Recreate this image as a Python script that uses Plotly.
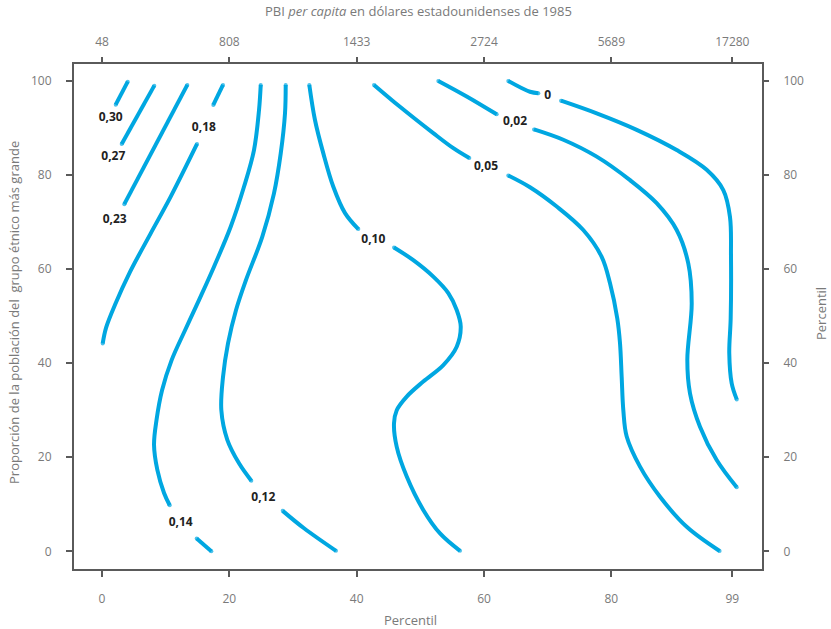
import plotly.graph_objects as go

# ---- data (percentile x, share of largest ethnic group y) ----
c030_x = [2.15, 4.04]
c030_y = [94.96, 99.85]

c027_x = [3.09, 8.21]
c027_y = [86.6, 99.0]

c023_x = [3.50, 13.40]
c023_y = [73.8, 99.15]

c018a_x = [17.48, 19.0]
c018a_y = [94.9, 99.15]
c018b_x = [14.92, 10.79, 7.65, 4.40, 2.04, 0.63, 0.11]
c018b_y = [86.6, 75.4, 67.6, 59.4, 52.4, 47.5, 44.2]

c014a_x = [24.93, 24.66, 23.87, 22.30, 20.21, 17.59, 15.23, 13.04, 10.92, 9.42, 8.56, 8.17, 8.69, 9.74, 10.63]
c014a_y = [99.15, 93.8, 85.3, 77.5, 69.0, 60.5, 53.4, 47.0, 40.6, 34.2, 27.9, 22.6, 17.3, 12.4, 9.8]
c014b_x = [14.87, 17.17]
c014b_y = [2.7, 0.0]

c012a_x = [28.85, 28.74, 28.07, 27.01, 25.18, 22.62, 21.05, 19.79, 19.0, 18.74, 19.68, 21.52, 23.45]
c012a_y = [99.15, 93.1, 84.6, 76.1, 66.9, 57.7, 51.3, 44.2, 37.0, 30.0, 23.7, 18.7, 15.0]
c012b_x = [28.38, 31.73, 36.75]
c012b_y = [8.6, 4.9, 0.1]

c010a_x = [32.56, 33.45, 34.76, 36.33, 38.17, 40.26]
c010a_y = [99.15, 91.7, 84.6, 77.5, 71.9, 68.5]
c010b_x = [45.86, 48.89, 52.03, 54.39, 55.71, 56.34, 55.71, 53.61, 50.46, 47.86, 46.29, 45.86, 46.29, 47.86, 50.46, 53.09, 56.23]
c010b_y = [64.6, 61.9, 58.4, 54.9, 51.3, 47.8, 43.5, 39.6, 36.1, 32.9, 30.0, 27.2, 22.2, 15.9, 8.8, 3.8, 0.1]

c005a_x = [42.72, 46.80, 52.03, 55.18, 57.69]
c005a_y = [99.15, 94.5, 88.9, 85.7, 83.6]
c005b_x = [63.81, 67.22, 71.42, 75.59, 78.48, 79.79, 80.93, 81.36, 81.62, 81.88, 82.41, 84.50, 87.64, 91.83, 97.0]
c005b_y = [79.9, 77.4, 73.3, 68.3, 62.6, 57.0, 49.5, 44.2, 37.1, 30.0, 24.4, 18.0, 11.6, 5.2, 0.06]

c002a_x = [52.82, 57.28, 61.99]
c002a_y = [100.0, 96.7, 92.9]
c002b_x = [67.85, 72.45, 77.70, 82.93, 87.12, 90.26, 92.08, 92.62, 91.93, 92.35, 93.92, 96.54, 99.69]
c002b_y = [89.7, 87.5, 83.9, 78.9, 74.0, 68.3, 61.2, 52.7, 40.7, 33.6, 26.5, 19.4, 13.6]

c000a_x = [63.81, 67.22, 68.53]
c000a_y = [100.0, 97.7, 97.4]
c000b_x = [72.09, 77.70, 83.98, 90.26, 94.97, 97.58, 98.63, 98.79, 98.74, 98.52, 98.90, 99.69]
c000b_y = [95.8, 93.1, 89.6, 85.3, 81.1, 76.8, 71.1, 62.6, 49.5, 42.1, 35.7, 32.3]

label_text = ["0,30", "0,27", "0,23", "0,18", "0,14", "0,12", "0,10", "0,05", "0,02", "0"]
label_x = [1.37, 1.77, 1.99, 16.0, 12.36, 25.33, 42.61, 60.31, 64.87, 70.0]
label_y = [92.2, 83.8, 70.4, 89.9, 5.95, 11.4, 66.2, 81.8, 91.3, 96.7]

pct_ticks = [0, 20, 40, 60, 80, 99]
gdp_labels = ["48", "808", "1433", "2724", "5689", "17280"]
y_ticks = [0, 20, 40, 60, 80, 100]

segments = [
    (c030_x, c030_y), (c027_x, c027_y), (c023_x, c023_y),
    (c018a_x, c018a_y), (c018b_x, c018b_y),
    (c014a_x, c014a_y), (c014b_x, c014b_y),
    (c012a_x, c012a_y), (c012b_x, c012b_y),
    (c010a_x, c010a_y), (c010b_x, c010b_y),
    (c005a_x, c005a_y), (c005b_x, c005b_y),
    (c002a_x, c002a_y), (c002b_x, c002b_y),
    (c000a_x, c000a_y), (c000b_x, c000b_y),
]

LINE = "#00A7E1"
FONT = "Open Sans"
GREY = "#7a7a7a"
AX = "#5a5a5a"

fig = go.Figure()
for sx, sy in segments:
    n = len(sx)
    sizes = [4] + [0] * (n - 2) + [4] if n > 1 else [4]
    fig.add_trace(go.Scatter(
        x=sx, y=sy, mode="lines+markers",
        line=dict(color=LINE, width=4, shape="spline", smoothing=1.0),
        marker=dict(color=LINE, size=sizes, line=dict(width=0)),
        hoverinfo="skip", showlegend=False,
    ))

fig.add_trace(go.Scatter(
    x=label_x, y=label_y, mode="text", text=label_text,
    textfont=dict(family=FONT, size=12, color="#222222", weight="bold"),
    hoverinfo="skip", showlegend=False,
))

# invisible traces to activate secondary axes
fig.add_trace(go.Scatter(x=[None], y=[None], xaxis="x2", yaxis="y", showlegend=False))
fig.add_trace(go.Scatter(x=[None], y=[None], xaxis="x", yaxis="y2", showlegend=False))

XR = [-4.40, 103.66]
YR = [-3.76, 103.6]

common_tick = dict(ticks="outside", ticklen=6, tickwidth=2, tickcolor=AX,
                   showgrid=False, zeroline=False,
                   tickfont=dict(family=FONT, size=12, color=GREY))

fig.update_layout(
    width=831, height=629,
    margin=dict(l=74, r=69, t=64, b=60),
    paper_bgcolor="white", plot_bgcolor="white",
    xaxis=dict(range=XR, tickvals=pct_ticks, ticktext=[str(v) for v in pct_ticks],
               showline=True, linecolor=AX, linewidth=2, mirror=True,
               ticklabelstandoff=12, **common_tick),
    xaxis2=dict(range=XR, tickvals=pct_ticks, ticktext=gdp_labels, overlaying="x",
                side="top", anchor="y", showline=False, ticklabelstandoff=6, **common_tick),
    yaxis=dict(range=YR, tickvals=y_ticks, showline=True, linecolor=AX, linewidth=2,
               mirror=True, ticklabelstandoff=12, **common_tick),
    yaxis2=dict(range=YR, tickvals=y_ticks, overlaying="y", side="right", anchor="x",
                showline=False, ticklabelstandoff=12, **common_tick),
    annotations=[
        dict(text="PBI <i>per capita</i> en dólares estadounidenses de 1985",
             xref="paper", yref="paper", x=0.5, y=(569 - 11) / 505,
             xanchor="center", yanchor="middle", showarrow=False,
             font=dict(family=FONT, size=13, color=GREY)),
        dict(text="Percentil", xref="paper", yref="paper", x=(410 - 74) / 688,
             y=(569 - 620) / 505, xanchor="center", yanchor="middle", showarrow=False,
             font=dict(family=FONT, size=13, color=GREY)),
        dict(text="Proporción de la población del  grupo étnico más grande",
             xref="paper", yref="paper", x=(14 - 74) / 688, y=(569 - 313) / 505,
             xanchor="center", yanchor="middle", textangle=-90, showarrow=False,
             font=dict(family=FONT, size=13, color=GREY)),
        dict(text="Percentil", xref="paper", yref="paper", x=(821 - 74) / 688,
             y=(569 - 314) / 505, xanchor="center", yanchor="middle", textangle=-90,
             showarrow=False, font=dict(family=FONT, size=13, color=GREY)),
    ],
)

# remove the default 8px page margin so the 831x629 figure fills the window
fig.write_html("out.html", config={"displayModeBar": False},
               post_script="document.body.style.margin='0px';")
